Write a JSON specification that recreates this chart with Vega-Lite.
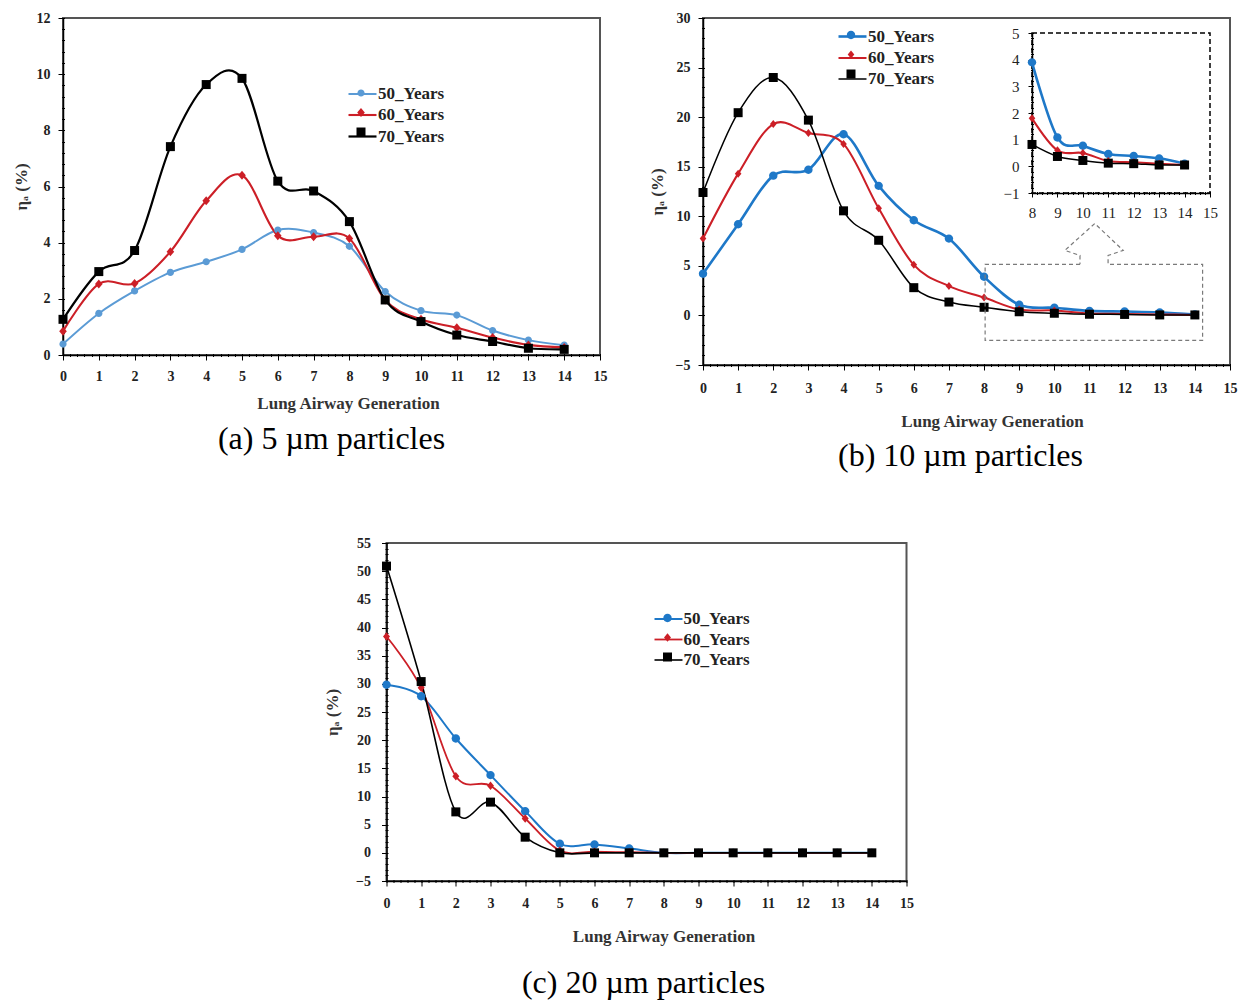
{
"$schema": "https://vega.github.io/schema/vega-lite/v6.json",
"background": "white",
"padding": {"left": 11, "top": 10, "right": 5, "bottom": 0},
"config": {
 "font": "Liberation Serif",
 "view": {"stroke": "#555555", "strokeWidth": 2},
 "axis": {"labelFont": "Liberation Serif", "labelFontWeight": "bold", "labelFontSize": 14, "labelColor": "#222222", "domainColor": "#000000", "domainWidth": 1.5, "tickColor": "#000000", "tickSize": 5, "grid": false, "labelFlush": false, "titleFont": "Liberation Serif", "titleFontWeight": "bold", "titleFontSize": 17, "titleColor": "#333333"},
 "legend": {"orient": "none", "title": null, "symbolSize": 400, "labelOffset": 4, "rowPadding": 1.5, "padding": 0, "labelFont": "Liberation Serif", "labelFontWeight": "bold", "labelFontSize": 17, "labelColor": "#222222"},
 "title": {"font": "Liberation Serif", "fontSize": 32, "fontWeight": "normal", "color": "#000000"}
},
"datasets": {
 "a": [
  {"g":0,"s":"50_Years","v":0.39},{"g":1,"s":"50_Years","v":1.48},{"g":2,"s":"50_Years","v":2.28},{"g":3,"s":"50_Years","v":2.94},{"g":4,"s":"50_Years","v":3.32},{"g":5,"s":"50_Years","v":3.76},{"g":6,"s":"50_Years","v":4.45},{"g":7,"s":"50_Years","v":4.36},{"g":8,"s":"50_Years","v":3.87},{"g":9,"s":"50_Years","v":2.26},{"g":10,"s":"50_Years","v":1.58},{"g":11,"s":"50_Years","v":1.42},{"g":12,"s":"50_Years","v":0.87},{"g":13,"s":"50_Years","v":0.53},{"g":14,"s":"50_Years","v":0.35},
  {"g":0,"s":"60_Years","v":0.85},{"g":1,"s":"60_Years","v":2.53},{"g":2,"s":"60_Years","v":2.55},{"g":3,"s":"60_Years","v":3.68},{"g":4,"s":"60_Years","v":5.49},{"g":5,"s":"60_Years","v":6.4},{"g":6,"s":"60_Years","v":4.25},{"g":7,"s":"60_Years","v":4.21},{"g":8,"s":"60_Years","v":4.15},{"g":9,"s":"60_Years","v":1.96},{"g":10,"s":"60_Years","v":1.27},{"g":11,"s":"60_Years","v":0.97},{"g":12,"s":"60_Years","v":0.62},{"g":13,"s":"60_Years","v":0.36},{"g":14,"s":"60_Years","v":0.27},
  {"g":0,"s":"70_Years","v":1.27},{"g":1,"s":"70_Years","v":2.97},{"g":2,"s":"70_Years","v":3.72},{"g":3,"s":"70_Years","v":7.42},{"g":4,"s":"70_Years","v":9.63},{"g":5,"s":"70_Years","v":9.85},{"g":6,"s":"70_Years","v":6.19},{"g":7,"s":"70_Years","v":5.84},{"g":8,"s":"70_Years","v":4.75},{"g":9,"s":"70_Years","v":1.96},{"g":10,"s":"70_Years","v":1.19},{"g":11,"s":"70_Years","v":0.71},{"g":12,"s":"70_Years","v":0.48},{"g":13,"s":"70_Years","v":0.24},{"g":14,"s":"70_Years","v":0.2}
 ],
 "b": [
  {"g":0,"s":"50_Years","v":4.2},{"g":1,"s":"50_Years","v":9.2},{"g":2,"s":"50_Years","v":14.1},{"g":3,"s":"50_Years","v":14.7},{"g":4,"s":"50_Years","v":18.27},{"g":5,"s":"50_Years","v":13.07},{"g":6,"s":"50_Years","v":9.6},{"g":7,"s":"50_Years","v":7.75},{"g":8,"s":"50_Years","v":3.9},{"g":9,"s":"50_Years","v":1.08},{"g":10,"s":"50_Years","v":0.77},{"g":11,"s":"50_Years","v":0.46},{"g":12,"s":"50_Years","v":0.39},{"g":13,"s":"50_Years","v":0.3},{"g":14,"s":"50_Years","v":0.1},
  {"g":0,"s":"60_Years","v":7.75},{"g":1,"s":"60_Years","v":14.3},{"g":2,"s":"60_Years","v":19.3},{"g":3,"s":"60_Years","v":18.4},{"g":4,"s":"60_Years","v":17.3},{"g":5,"s":"60_Years","v":10.8},{"g":6,"s":"60_Years","v":5.1},{"g":7,"s":"60_Years","v":2.96},{"g":8,"s":"60_Years","v":1.8},{"g":9,"s":"60_Years","v":0.6},{"g":10,"s":"60_Years","v":0.5},{"g":11,"s":"60_Years","v":0.2},{"g":12,"s":"60_Years","v":0.15},{"g":13,"s":"60_Years","v":0.1},{"g":14,"s":"60_Years","v":0.05},
  {"g":0,"s":"70_Years","v":12.4},{"g":1,"s":"70_Years","v":20.45},{"g":2,"s":"70_Years","v":24.0},{"g":3,"s":"70_Years","v":19.7},{"g":4,"s":"70_Years","v":10.55},{"g":5,"s":"70_Years","v":7.58},{"g":6,"s":"70_Years","v":2.8},{"g":7,"s":"70_Years","v":1.35},{"g":8,"s":"70_Years","v":0.82},{"g":9,"s":"70_Years","v":0.37},{"g":10,"s":"70_Years","v":0.22},{"g":11,"s":"70_Years","v":0.12},{"g":12,"s":"70_Years","v":0.1},{"g":13,"s":"70_Years","v":0.05},{"g":14,"s":"70_Years","v":0.05}
 ],
 "c": [
  {"g":0,"s":"50_Years","v":29.85},{"g":1,"s":"50_Years","v":27.8},{"g":2,"s":"50_Years","v":20.3},{"g":3,"s":"50_Years","v":13.8},{"g":4,"s":"50_Years","v":7.4},{"g":5,"s":"50_Years","v":1.6},{"g":6,"s":"50_Years","v":1.5},{"g":7,"s":"50_Years","v":0.8},{"g":8,"s":"50_Years","v":0},{"g":9,"s":"50_Years","v":0},{"g":10,"s":"50_Years","v":0},{"g":11,"s":"50_Years","v":0},{"g":12,"s":"50_Years","v":0},{"g":13,"s":"50_Years","v":0},{"g":14,"s":"50_Years","v":0},
  {"g":0,"s":"60_Years","v":38.4},{"g":1,"s":"60_Years","v":29.3},{"g":2,"s":"60_Years","v":13.6},{"g":3,"s":"60_Years","v":11.9},{"g":4,"s":"60_Years","v":6.1},{"g":5,"s":"60_Years","v":0.4},{"g":6,"s":"60_Years","v":0.2},{"g":7,"s":"60_Years","v":0.1},{"g":8,"s":"60_Years","v":0},{"g":9,"s":"60_Years","v":0},{"g":10,"s":"60_Years","v":0},{"g":11,"s":"60_Years","v":0},{"g":12,"s":"60_Years","v":0},{"g":13,"s":"60_Years","v":0},{"g":14,"s":"60_Years","v":0},
  {"g":0,"s":"70_Years","v":50.9},{"g":1,"s":"70_Years","v":30.4},{"g":2,"s":"70_Years","v":7.27},{"g":3,"s":"70_Years","v":9.0},{"g":4,"s":"70_Years","v":2.78},{"g":5,"s":"70_Years","v":0},{"g":6,"s":"70_Years","v":0},{"g":7,"s":"70_Years","v":0},{"g":8,"s":"70_Years","v":0},{"g":9,"s":"70_Years","v":0},{"g":10,"s":"70_Years","v":0},{"g":11,"s":"70_Years","v":0},{"g":12,"s":"70_Years","v":0},{"g":13,"s":"70_Years","v":0},{"g":14,"s":"70_Years","v":0}
 ],
 "box": [
  {"i":0,"x":10.73,"y":5.15},{"i":1,"x":8.03,"y":5.15},{"i":2,"x":8.03,"y":-2.52},{"i":3,"x":14.22,"y":-2.52},{"i":4,"x":14.22,"y":5.15},{"i":5,"x":11.53,"y":5.15},{"i":6,"x":11.53,"y":6.05},{"i":7,"x":11.96,"y":6.56},{"i":8,"x":11.15,"y":9.27},{"i":9,"x":10.3,"y":6.56},{"i":10,"x":10.73,"y":6.05},{"i":11,"x":10.73,"y":5.15}
 ],
 "ibox": [{"x":8,"x2":15,"y":-1,"y2":5}]
},
"center": true,
"spacing": 62,
"resolve": {"scale": {"stroke": "independent", "fill": "independent", "shape": "independent", "strokeWidth": "independent"}},
"vconcat": [
 {"bounds": "flush", "spacing": 103,
  "resolve": {"scale": {"stroke": "independent", "fill": "independent", "shape": "independent", "strokeWidth": "independent"}},
  "hconcat": [
  {
   "width": 537, "height": 337,
   "title": {"text": "(a) 5 µm particles", "orient": "bottom", "frame": "group", "anchor": "middle", "offset": 13},
   "data": {"name": "a"},
   "resolve": {"axis": {"x": "independent", "y": "independent"}},
   "layer": [
    {"mark": {"type": "line", "interpolate": "cardinal"},
     "encoding": {
      "x": {"field": "g", "type": "quantitative", "scale": {"domain": [0, 15], "nice": false, "zero": false},
            "axis": {"orient": "bottom", "values": [0,1,2,3,4,5,6,7,8,9,10,11,12,13,14,15], "title": "Lung Airway Generation", "titleX": 285, "titlePadding": 12, "labelPadding": 9}},
      "y": {"field": "v", "type": "quantitative", "scale": {"domain": [0, 12], "nice": false, "zero": false},
            "axis": {"orient": "left", "values": [0,2,4,6,8,10,12], "title": "ηₐ (%)", "titlePadding": 6, "labelPadding": 8}},
      "stroke": {"field": "s", "type": "nominal", "scale": {"domain": ["50_Years","60_Years","70_Years"], "range": ["#5b9bd5","#cc1f27","#000000"]},
                "legend": {"legendX": 288, "legendY": 65, "symbolType": "M-1.4,0H1.4", "symbolStrokeWidth": 2}},
      "strokeWidth": {"field": "s", "type": "nominal", "scale": {"domain": ["50_Years","60_Years","70_Years"], "range": [2, 2.2, 2.6]}, "legend": null}
     }},
    {"mark": {"type": "point", "filled": true, "size": 400, "opacity": 1},
     "encoding": {
      "x": {"field": "g", "type": "quantitative", "scale": {"domain": [0, 15], "nice": false, "zero": false},
            "axis": {"orient": "bottom", "tickCount": 75, "labels": false, "domain": false, "title": null, "tickSize": 3, "offset": -1.5}},
      "y": {"field": "v", "type": "quantitative", "scale": {"domain": [0, 12], "nice": false, "zero": false},
            "axis": {"orient": "left", "values": [0,0.4,0.8,1.2,1.6,2,2.4,2.8,3.2,3.6,4,4.4,4.8,5.2,5.6,6,6.4,6.8,7.2,7.6,8,8.4,8.8,9.2,9.6,10,10.4,10.8,11.2,11.6,12], "labels": false, "domain": false, "title": null, "tickSize": 3, "offset": -1.5}},
      "fill": {"field": "s", "type": "nominal", "scale": {"range": ["#5b9bd5","#cc1f27","#000000"]},
               "legend": {"legendX": 288, "legendY": 65, "labelExpr": "''", "symbolStrokeWidth": 0}},
      "shape": {"field": "s", "type": "nominal", "scale": {"range": ["M-0.36,0A0.36,0.36 0 1,0 0.36,0A0.36,0.36 0 1,0 -0.36,0Z", "M0,-0.45L0.38,0L0,0.45L-0.38,0Z", "M-0.45,-0.45H0.45V0.45H-0.45Z"]},
                "legend": {"legendX": 288, "legendY": 65, "labelExpr": "''", "symbolStrokeWidth": 0}}
     }}
   ]
  },
  {
   "width": 527, "height": 347,
   "title": {"text": "(b) 10 µm particles", "orient": "bottom", "frame": "group", "anchor": "middle", "offset": 12, "dx": -6},
   "resolve": {"scale": {"x": "independent", "y": "independent"}},
   "layer": [
    {"data": {"name": "b"},
     "resolve": {"axis": {"x": "independent", "y": "independent"}},
     "layer": [
      {"mark": {"type": "line", "interpolate": "cardinal"},
       "encoding": {
        "x": {"field": "g", "type": "quantitative", "scale": {"domain": [0, 15], "nice": false, "zero": false},
              "axis": {"orient": "bottom", "values": [0,1,2,3,4,5,6,7,8,9,10,11,12,13,14,15], "title": "Lung Airway Generation", "titleX": 289, "titlePadding": 18, "labelPadding": 11}},
        "y": {"field": "v", "type": "quantitative", "scale": {"domain": [-5, 30], "nice": false, "zero": false},
              "axis": {"orient": "left", "values": [-5,0,5,10,15,20,25,30], "title": "ηₐ (%)", "titlePadding": 9, "labelPadding": 8}},
        "stroke": {"field": "s", "type": "nominal", "scale": {"domain": ["50_Years","60_Years","70_Years"], "range": ["#1e78c8","#cc1f27","#000000"]},
                  "legend": {"legendX": 138, "legendY": 7, "symbolType": "M-1.4,0H1.4", "symbolStrokeWidth": 2}},
        "strokeWidth": {"field": "s", "type": "nominal", "scale": {"domain": ["50_Years","60_Years","70_Years"], "range": [2.6, 1.5, 1.5]}, "legend": null}
       }},
      {"mark": {"type": "point", "filled": true, "size": 400, "opacity": 1},
       "encoding": {
        "x": {"field": "g", "type": "quantitative", "scale": {"domain": [0, 15], "nice": false, "zero": false},
              "axis": {"orient": "bottom", "tickCount": 75, "labels": false, "domain": false, "title": null, "tickSize": 3, "offset": -1.5}},
        "y": {"field": "v", "type": "quantitative", "scale": {"domain": [-5, 30], "nice": false, "zero": false},
              "axis": {"orient": "left", "tickCount": 35, "labels": false, "domain": false, "title": null, "tickSize": 3, "offset": -1.5}},
        "fill": {"field": "s", "type": "nominal", "scale": {"range": ["#1e78c8","#cc1f27","#000000"]},
                 "legend": {"legendX": 138, "legendY": 7, "labelExpr": "''", "symbolStrokeWidth": 0}},
        "shape": {"field": "s", "type": "nominal", "scale": {"range": ["M-0.42,0A0.42,0.42 0 1,0 0.42,0A0.42,0.42 0 1,0 -0.42,0Z", "M0,-0.4L0.33,0L0,0.4L-0.33,0Z", "M-0.45,-0.45H0.45V0.45H-0.45Z"]},
                  "legend": {"legendX": 138, "legendY": 7, "labelExpr": "''", "symbolStrokeWidth": 0}}
       }},
      {"data": {"name": "box"},
       "mark": {"type": "line", "color": "#7a7a7a", "strokeWidth": 1.2, "strokeDash": [4, 3]},
       "encoding": {
        "x": {"field": "x", "type": "quantitative", "scale": {"domain": [0, 15], "nice": false, "zero": false}, "axis": null},
        "y": {"field": "y", "type": "quantitative", "scale": {"domain": [-5, 30], "nice": false, "zero": false}, "axis": null},
        "order": {"field": "i", "type": "quantitative"}
       }}
     ]},
    {"data": {"name": "b"},
     "transform": [{"filter": "datum.g >= 8"}],
     "resolve": {"axis": {"x": "independent", "y": "independent"}},
     "layer": [
      {"data": {"name": "ibox"},
       "mark": {"type": "rect", "fill": "white", "fillOpacity": 0, "stroke": "#000000", "strokeWidth": 1.5, "strokeDash": [5, 3]},
       "encoding": {
        "x": {"field": "x", "type": "quantitative", "scale": {"domain": [8, 15], "range": [329, 507], "nice": false, "zero": false}, "axis": null},
        "x2": {"field": "x2"},
        "y": {"field": "y", "type": "quantitative", "scale": {"domain": [-1, 5], "range": [175, 15], "nice": false, "zero": false}, "axis": null},
        "y2": {"field": "y2"}
       }},
      {"mark": {"type": "line", "interpolate": "cardinal"},
       "encoding": {
        "x": {"field": "g", "type": "quantitative", "scale": {"domain": [8, 15], "range": [329, 507], "nice": false, "zero": false},
              "axis": {"orient": "bottom", "offset": -172, "values": [8,9,10,11,12,13,14,15], "title": null, "labelFontWeight": "normal", "labelFontSize": 15, "tickSize": 4, "labelPadding": 8}},
        "y": {"field": "v", "type": "quantitative", "scale": {"domain": [-1, 5], "range": [175, 15], "nice": false, "zero": false},
              "axis": {"orient": "left", "offset": -329, "values": [-1,0,1,2,3,4,5], "title": null, "labelFontWeight": "normal", "labelFontSize": 15, "tickSize": 4, "labelPadding": 9}},
        "stroke": {"field": "s", "type": "nominal", "legend": null},
        "strokeWidth": {"field": "s", "type": "nominal", "legend": null}
       }},
      {"mark": {"type": "point", "filled": true, "size": 400, "opacity": 1},
       "encoding": {
        "x": {"field": "g", "type": "quantitative", "scale": {"domain": [8, 15], "range": [329, 507], "nice": false, "zero": false},
              "axis": {"orient": "bottom", "offset": -173.5, "tickCount": 35, "labels": false, "domain": false, "title": null, "tickSize": 3}},
        "y": {"field": "v", "type": "quantitative", "scale": {"domain": [-1, 5], "range": [175, 15], "nice": false, "zero": false},
              "axis": {"orient": "left", "offset": -330.5, "tickCount": 30, "labels": false, "domain": false, "title": null, "tickSize": 3}},
        "fill": {"field": "s", "type": "nominal", "legend": null},
        "shape": {"field": "s", "type": "nominal", "legend": null}
       }}
     ]}
   ]
  }
 ]},
 {
  "width": 520, "height": 338,
  "title": {"text": "(c) 20 µm particles", "orient": "bottom", "frame": "group", "anchor": "middle", "offset": 24, "dx": -3},
  "data": {"name": "c"},
  "resolve": {"axis": {"x": "independent", "y": "independent"}},
  "layer": [
   {"mark": {"type": "line", "interpolate": "cardinal"},
    "encoding": {
     "x": {"field": "g", "type": "quantitative", "scale": {"domain": [0, 15], "nice": false, "zero": false},
           "axis": {"orient": "bottom", "values": [0,1,2,3,4,5,6,7,8,9,10,11,12,13,14,15], "title": "Lung Airway Generation", "titleX": 277, "titlePadding": 18, "labelPadding": 10}},
     "y": {"field": "v", "type": "quantitative", "scale": {"domain": [-5, 55], "nice": false, "zero": false},
           "axis": {"orient": "left", "values": [-5,0,5,10,15,20,25,30,35,40,45,50,55], "title": "ηₐ (%)", "titlePadding": 14, "labelPadding": 11}},
     "stroke": {"field": "s", "type": "nominal", "scale": {"domain": ["50_Years","60_Years","70_Years"], "range": ["#1e78c8","#cc1f27","#000000"]},
               "legend": {"legendX": 271, "legendY": 65, "symbolType": "M-1.4,0H1.4", "symbolStrokeWidth": 2}},
     "strokeWidth": {"field": "s", "type": "nominal", "scale": {"domain": ["50_Years","60_Years","70_Years"], "range": [2, 1.6, 1.6]}, "legend": null}
    }},
   {"mark": {"type": "point", "filled": true, "size": 400, "opacity": 1},
    "encoding": {
     "x": {"field": "g", "type": "quantitative", "scale": {"domain": [0, 15], "nice": false, "zero": false},
           "axis": {"orient": "bottom", "tickCount": 75, "labels": false, "domain": false, "title": null, "tickSize": 3, "offset": -1.5}},
     "y": {"field": "v", "type": "quantitative", "scale": {"domain": [-5, 55], "nice": false, "zero": false},
           "axis": {"orient": "left", "tickCount": 60, "labels": false, "domain": false, "title": null, "tickSize": 3, "offset": -1.5}},
     "fill": {"field": "s", "type": "nominal", "scale": {"range": ["#1e78c8","#cc1f27","#000000"]},
              "legend": {"legendX": 271, "legendY": 65, "labelExpr": "''", "symbolStrokeWidth": 0}},
     "shape": {"field": "s", "type": "nominal", "scale": {"range": ["M-0.42,0A0.42,0.42 0 1,0 0.42,0A0.42,0.42 0 1,0 -0.42,0Z", "M0,-0.42L0.35,0L0,0.42L-0.35,0Z", "M-0.45,-0.45H0.45V0.45H-0.45Z"]},
               "legend": {"legendX": 271, "legendY": 65, "labelExpr": "''", "symbolStrokeWidth": 0}}
    }}
  ]
 }
]
}
